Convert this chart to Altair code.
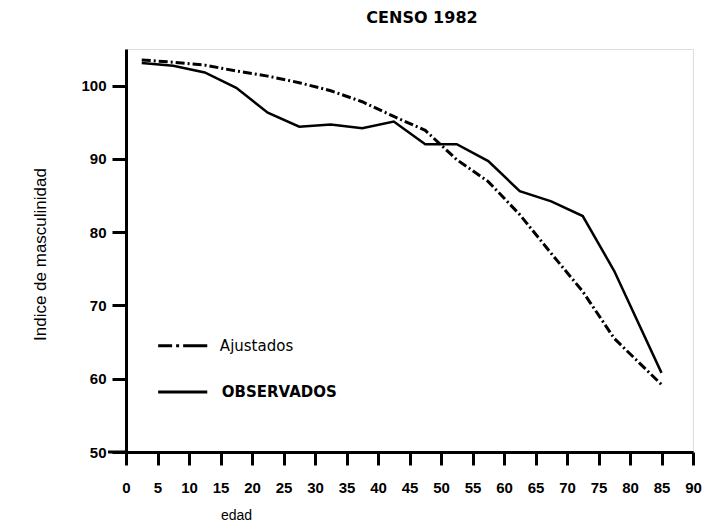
import altair as alt
import pandas as pd

# ---- data ----
edad = [2.5, 7.5, 12.5, 17.5, 22.5, 27.5, 32.5, 37.5, 42.5, 47.5, 52.5,
        57.5, 62.5, 67.5, 72.5, 77.5, 85]
observados = [103.1, 102.7, 101.8, 99.7, 96.3, 94.4, 94.7, 94.2, 95.1, 92.0,
              92.0, 89.7, 85.6, 84.2, 82.2, 74.7, 60.8]
ajustados = [103.5, 103.2, 102.8, 102.0, 101.3, 100.4, 99.3, 97.8, 95.8, 93.9,
             89.9, 86.9, 82.4, 77.1, 71.9, 65.5, 59.2]

x_ticks = list(range(0, 95, 5))
y_ticks = [50, 60, 70, 80, 90, 100]

legend_labels = ["Ajustados", "OBSERVADOS"]
title_text = "CENSO 1982"

FONT = "Liberation Sans"
LFONT = "DejaVu Sans"

df_obs = pd.DataFrame({"edad": edad, "valor": observados})
df_adj = pd.DataFrame({"edad": edad, "valor": ajustados})

xs = alt.Scale(domain=[0, 90], nice=False)
ys = alt.Scale(domain=[50, 105], nice=False, zero=False)

x_axis = alt.Axis(values=x_ticks, tickSize=13, tickWidth=3, tickColor="black",
                  domainWidth=3, domainColor="black", labelPadding=15,
                  labelFontSize=15, labelFont=FONT, labelFontWeight="bold",
                  labelColor="black", labelFlush=False, labelOverlap=False,
                  grid=False, title="edad", titleFont=FONT, titleFontSize=14,
                  titleFontWeight="normal", titleColor="black", titleX=110,
                  titleY=63, titleAlign="center", titleBaseline="middle")
y_axis = alt.Axis(values=y_ticks, tickSize=14, tickWidth=3, tickColor="black",
                  domainWidth=3, domainColor="black", labelPadding=6,
                  labelFontSize=15, labelFont=FONT, labelFontWeight="bold",
                  labelColor="black", grid=False,
                  title="Indice de masculinidad", titleFont=FONT,
                  titleFontSize=17, titleFontWeight="normal",
                  titleColor="black", titleAngle=270, titleX=-86, titleY=205,
                  titleAlign="center", titleBaseline="middle")


def X(field):
    return alt.X(field, type="quantitative", scale=xs, axis=x_axis)


def Y(field):
    return alt.Y(field, type="quantitative", scale=ys, axis=y_axis)


obs = alt.Chart(df_obs).mark_line(color="black", strokeWidth=2.5).encode(
    x=X("edad"), y=Y("valor"))
adj = alt.Chart(df_adj).mark_line(color="black", strokeWidth=3,
                                  strokeDash=[9, 3, 2, 3]).encode(
    x=X("edad"), y=Y("valor"))

# manual legend (in data coordinates)
leg_adj = alt.Chart(pd.DataFrame({"x": [5.1], "x2": [12.9], "y": [64.5]})).mark_rule(
    color="black", strokeWidth=3, strokeDash=[14, 4, 3, 4, 24, 0]).encode(
    x=X("x"), x2="x2:Q", y=Y("y"))
leg_obs = alt.Chart(pd.DataFrame({"x": [5.1], "x2": [12.9], "y": [58.2]})).mark_rule(
    color="black", strokeWidth=3).encode(
    x=X("x"), x2="x2:Q", y=Y("y"))
txt_adj = alt.Chart(pd.DataFrame({"x": [14.9], "y": [64.5], "t": [legend_labels[0]]})).mark_text(
    align="left", baseline="middle", font=LFONT, fontSize=15, color="black").encode(
    x=X("x"), y=Y("y"), text="t:N")
txt_obs = alt.Chart(pd.DataFrame({"x": [15.2], "y": [58.2], "t": [legend_labels[1]]})).mark_text(
    align="left", baseline="middle", font=LFONT, fontSize=15, fontWeight="bold",
    color="black").encode(
    x=X("x"), y=Y("y"), text="t:N")

# chart title as text above the frame
ttl = alt.Chart(pd.DataFrame({"t": [title_text]})).mark_text(
    align="center", baseline="middle", font=LFONT, fontSize=16,
    fontWeight="bold", color="black").encode(
    x=alt.value(296), y=alt.value(-31), text="t:N")

# small extension of the x axis line left of the frame
ext = alt.Chart(pd.DataFrame({"a": [0]})).mark_rule(color="black", strokeWidth=3).encode(
    x=alt.value(-18), x2=alt.value(0), y=alt.value(403))

chart = alt.layer(obs, adj, leg_adj, leg_obs, txt_adj, txt_obs, ttl, ext).properties(
    width=567, height=403,
    autosize=alt.AutoSizeParams(type="none"),
    padding={"left": 118, "top": 41, "right": 10, "bottom": 74},
).configure_view(stroke="black", strokeWidth=3).configure(background="white")

chart.save("out.html", embed_options={"renderer": "svg", "actions": False})
